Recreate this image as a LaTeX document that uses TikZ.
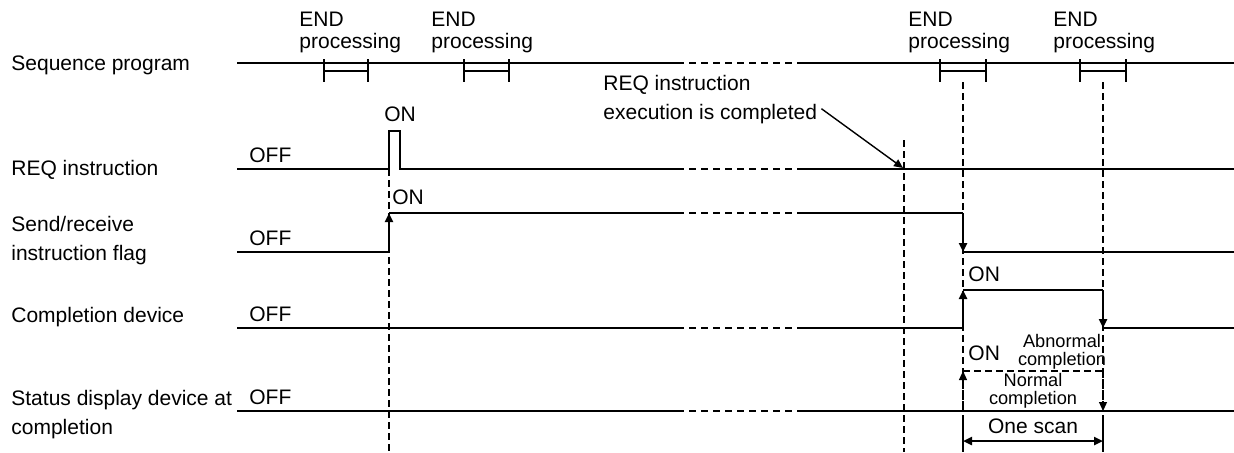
\documentclass[tikz,border=0pt]{standalone}
\usepackage{fontspec}
\setmainfont{Liberation Sans}
\usetikzlibrary{positioning,arrows.meta}

\begin{document}
\begin{tikzpicture}[x=0.5pt, y=-0.5pt, >={Triangle[length=4.5pt,width=4pt]},
    sig/.style={line width=1.2pt},
    guide/.style={line width=0.55pt, dash pattern=on 3.5pt off 2pt},
    gap/.style={line width=0.55pt, dash pattern=on 3.5pt off 2.5pt},
    every node/.style={inner sep=0pt, font=\fontsize{10.5}{14.5}\selectfont},
    small/.style={font=\fontsize{9.1}{8.9}\selectfont, align=center}]
  \useasboundingbox (0,0) rectangle (1234,452);

  \node[anchor=north west] (seq) at (11,55) {Sequence program};
  \node[anchor=north west] (req) at (11,160) {REQ instruction};
  \node[anchor=north west, align=left] (flag) at (11,216) {Send/receive\\instruction flag};
  \node[anchor=north west] (cdev) at (11,307) {Completion device};
  \node[anchor=north west, align=left] (sdev) at (11,390) {Status display device at\\completion};

  \foreach \x/\n in {299/end1, 431/end2, 908/end3, 1053/end4}
    \node[anchor=north west, align=left, font=\fontsize{10.5}{11}\selectfont] (\n) at (\x,12) {END\\processing};
  \foreach \a/\b in {324/368, 464/509, 940/986, 1080/1126}
    \draw[sig] (\a,59) -- (\a,82) (\b,59) -- (\b,82) (\a,71) -- (\b,71);

  \foreach \y in {63,169,213,328,411}
    \draw[gap] (677,\y) -- (797,\y);

  \draw[guide] (389,169) -- (389,452);
  \draw[guide] (904,140) -- (904,452);
  \draw[guide] (963,82) -- (963,411);
  \draw[guide] (1103,82) -- (1103,411);

  \draw[sig] (237,63) -- (677,63) (797,63) -- (1234,63);
  \draw[sig] (237,169) -- (389,169) -- (389,131) -- (400,131) -- (400,169) -- (677,169)
             (797,169) -- (1234,169);
  \draw[sig] (237,252) -- (389,252);
  \draw[sig,->] (389,252) -- (389,213);
  \draw[sig] (389,213) -- (677,213) (797,213) -- (963,213);
  \draw[sig,->] (963,213) -- (963,252);
  \draw[sig] (963,252) -- (1234,252);
  \draw[sig] (237,328) -- (677,328) (797,328) -- (963,328);
  \draw[sig,->] (963,328) -- (963,290);
  \draw[sig] (963,290) -- (1103,290);
  \draw[sig,->] (1103,290) -- (1103,328);
  \draw[sig] (1103,328) -- (1234,328);
  \draw[sig] (237,411) -- (677,411) (797,411) -- (1234,411);
  \draw[guide,->] (963,411) -- (963,371);
  \draw[guide] (963,371) -- (1103,371);
  \draw[guide,->] (1103,371) -- (1103,411);

  \foreach \y/\n in {155/off1, 238/off2, 314/off3, 397/off4}
    \node[anchor=west] (\n) at (249,\y) {OFF};
  \node (on1) at (400,114) {ON};
  \node[anchor=west] (on2) at (392,197) {ON};
  \node[anchor=west] (on3) at (968,274) {ON};
  \node[anchor=west] (on4) at (968,353) {ON};

  \node[anchor=north west, align=left] (done) at (603,75) {REQ instruction\\execution is completed};
  \coordinate (donept) at (903,168);
  \draw[line width=0.7pt,->] ([shift={(4,9)}]done.east) -- (donept);

  \node[small, anchor=north] (abn) at (1062,334) {Abnormal\\completion};
  \node[small, anchor=north] (nrm) at (1033,373) {Normal\\completion};

  \coordinate (scanA) at (963,441);
  \coordinate (scanB) at (1103,441);
  \draw[sig] (963,415) -- (963,452) (1103,415) -- (1103,452);
  \draw[sig,<->] (scanA) -- (scanB);
  \node (scan) at (1033,426) {One scan};
\end{tikzpicture}
\end{document}
